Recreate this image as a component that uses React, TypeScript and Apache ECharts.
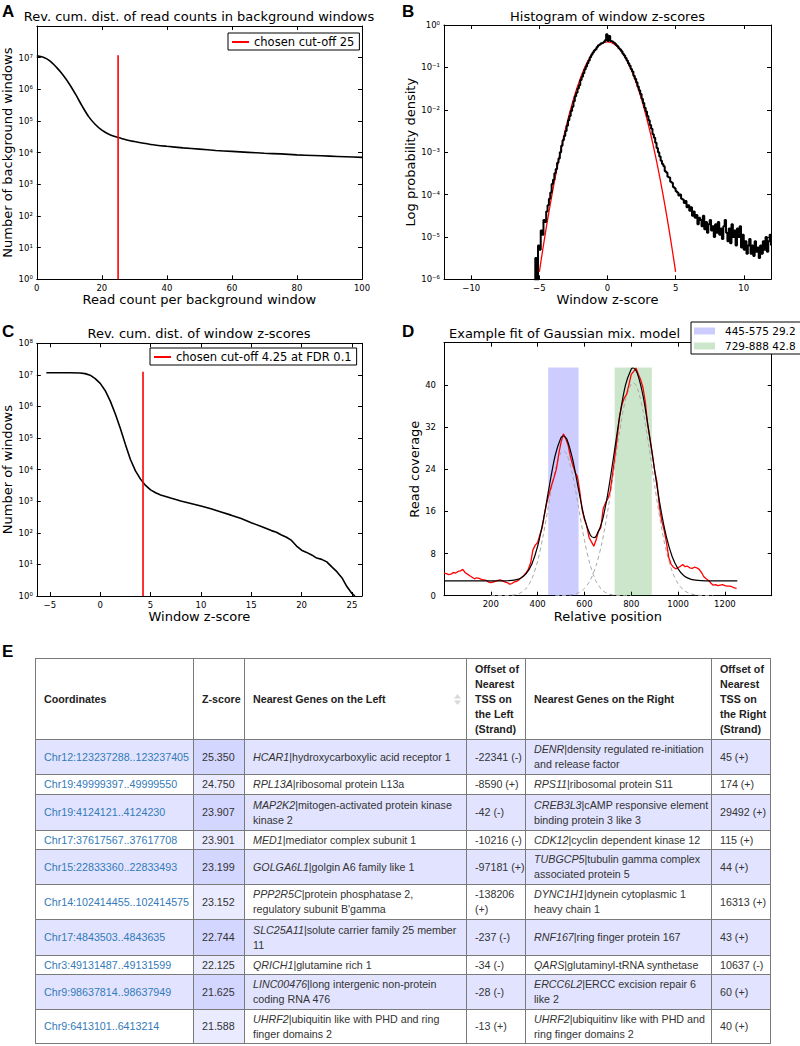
import React, { useEffect, useRef } from 'react';
import * as echarts from 'echarts';

// ---------- Panel A ----------
const aReadCount = [0, 2, 4, 6, 8, 10, 12, 14, 16, 18, 20, 22, 24, 26, 28, 30, 35, 40, 45, 50, 55, 60, 65, 70, 75, 80, 85, 90, 95, 100];
const aWindowsLog10 = [7.06, 7.01, 6.9, 6.7, 6.46, 6.17, 5.83, 5.46, 5.13, 4.89, 4.71, 4.59, 4.51, 4.45, 4.39, 4.35, 4.26, 4.2, 4.15, 4.11, 4.07, 4.04, 4.01, 3.98, 3.96, 3.93, 3.91, 3.89, 3.87, 3.85];
const aCutoff = 25;
const aCutoffTop = 1.2e7;
const aCutoffLabel = 'chosen cut-off 25';
const aXTicks = [0, 20, 40, 60, 80, 100];

// ---------- Panel B ----------
const bHistStart = -5.4;
const bHistBin = 0.1;
const bHistLog10 = [
  -6.3, -5.5, -6.1, -5.2, -5.3, -4.85, -4.95, -4.6, -4.65, -4.4,
  -4.25, -4.1, -3.95, -3.75, -3.65, -3.5, -3.4, -3.25, -3.15, -3.0,
  -2.85, -2.72, -2.62, -2.5, -2.38, -2.25, -2.15, -2.03, -1.93, -1.8,
  -1.68, -1.6, -1.5, -1.42, -1.3, -1.22, -1.14, -1.05, -0.98, -0.9,
  -0.84, -0.76, -0.7, -0.65, -0.6, -0.57, -0.52, -0.48, -0.46, -0.43,
  -0.42, -0.4, -0.36, -0.22, -0.38, -0.26, -0.38, -0.39, -0.41, -0.43,
  -0.47, -0.5, -0.55, -0.58, -0.62, -0.68, -0.72, -0.78, -0.84, -0.9,
  -0.96, -1.04, -1.1, -1.2, -1.27, -1.35, -1.45, -1.54, -1.63, -1.74,
  -1.84, -1.95, -2.04, -2.15, -2.25, -2.36, -2.45, -2.58, -2.66, -2.78,
  -2.9, -3.0, -3.1, -3.2, -3.28, -3.33, -3.45, -3.48, -3.58, -3.6,
  -3.7, -3.72, -3.82, -3.85, -3.92, -3.95, -4.02, -4.0, -4.1, -4.12,
  -4.2, -4.15, -4.3, -4.25, -4.38, -4.3, -4.5, -4.4, -4.55, -4.48,
  -4.7, -4.55, -4.6, -4.75, -4.5, -4.82, -4.65, -4.9, -4.7, -4.6,
  -4.85, -4.75, -5.0, -4.7, -4.9, -4.65, -4.95, -4.8, -5.05, -4.75,
  -4.6, -4.9, -5.1, -4.8, -5.15, -4.7, -5.0, -4.85, -5.2, -4.8,
  -5.0, -4.75, -5.25, -4.95, -5.3, -5.1, -5.4, -5.2, -5.05, -5.4,
  -5.2, -5.45, -5.1, -5.35, -5.25, -5.5, -5.2, -5.4, -5.1, -5.3,
  -5.0, -5.35, -5.1, -4.95, -5.2,
];
const bFitZ = [-5, -4.75, -4.5, -4.25, -4, -3.75, -3.5, -3.25, -3, -2.75, -2.5, -2.25, -2, -1.75, -1.5, -1.25, -1, -0.75, -0.5, -0.25, 0, 0.25, 0.5, 0.75, 1, 1.25, 1.5, 1.75, 2, 2.25, 2.5, 2.75, 3, 3.25, 3.5, 3.75, 4, 4.25, 4.5, 4.75, 5];
const bFitLog10 = [-5.826, -5.297, -4.795, -4.32, -3.873, -3.452, -3.058, -2.692, -2.353, -2.041, -1.756, -1.498, -1.267, -1.064, -0.888, -0.738, -0.616, -0.521, -0.453, -0.413, -0.399, -0.413, -0.453, -0.521, -0.616, -0.738, -0.888, -1.064, -1.267, -1.498, -1.756, -2.041, -2.353, -2.692, -3.058, -3.452, -3.873, -4.32, -4.795, -5.297, -5.826];
const bXTicks = [-10, -5, 0, 5, 10];

// ---------- Panel C ----------
const cZ = [-5.35, -4, -3, -2, -1.5, -1, -0.5, 0, 0.5, 1, 1.5, 2, 2.5, 3, 3.5, 4, 4.5, 5, 5.5, 6, 7, 8, 9, 10, 11, 12, 13, 14, 15, 16, 17, 17.5, 18, 18.5, 19, 19.5, 20, 20.5, 21, 21.5, 22, 22.5, 23, 23.5, 24, 24.5, 25, 25.3];
const cWindowsLog10 = [7.07, 7.07, 7.07, 7.06, 7.04, 6.99, 6.88, 6.73, 6.5, 6.17, 5.76, 5.3, 4.8, 4.32, 3.96, 3.7, 3.5, 3.36, 3.27, 3.2, 3.1, 3.01, 2.93, 2.85, 2.76, 2.66, 2.56, 2.45, 2.32, 2.2, 2.07, 2.02, 1.93, 1.86, 1.76, 1.58, 1.45, 1.38, 1.3, 1.2, 1.16, 1.08, 0.92, 0.77, 0.58, 0.3, 0.08, 0];
const cCutoff = 4.25;
const cCutoffTop = 1.25e7;
const cCutoffLabel = 'chosen cut-off 4.25 at FDR 0.1';
const cXTicks = [-5, 0, 5, 10, 15, 20, 25];

// ---------- Panel D ----------
const dCoverageStart = 0;
const dCoverageStep = 10;
const dCoverage = [
  4.3, 4.2, 4.0, 4.1, 4.4, 4.3, 4.6, 4.7, 5.0, 4.4,
  4.1, 3.8, 3.5, 3.2, 3.4, 3.3, 3.1, 3.0, 2.9, 2.6,
  2.5, 2.6, 2.7, 2.9, 3.0, 2.8, 2.6, 2.5, 2.2, 2.3,
  2.6, 2.7, 3.0, 3.4, 3.8, 4.3, 5.0, 6.2, 8.7, 9.6,
  10.1, 11.6, 13.0, 15.6, 17.8, 19.5, 21.0, 22.4, 24.0, 26.8,
  29.1, 30.7, 29.8, 28.6, 26.4, 24.8, 23.4, 22.6, 19.8, 16.3,
  14.5, 13.2, 11.0, 10.2, 9.4, 10.6, 12.2, 12.9, 16.5, 17.6,
  18.4, 19.8, 23.0, 26.5, 30.0, 34.0, 36.2, 37.5, 38.2, 40.0,
  42.0, 42.5, 43.2, 42.0, 41.0, 39.5, 36.8, 32.5, 29.8, 27.0,
  23.8, 21.5, 17.0, 14.2, 12.5, 10.2, 7.3, 6.0, 5.4, 5.1,
  5.3, 5.6, 5.9, 5.5, 5.6, 5.3, 5.2, 5.4, 5.3, 5.0,
  4.4, 3.6, 3.2, 2.9, 2.4, 2.0, 2.1, 1.9, 2.0, 2.1,
  1.9, 1.8, 1.8, 1.7, 1.5, 1.4,
];
const dFitPos = [0, 25, 50, 75, 100, 125, 150, 175, 200, 225, 250, 275, 300, 325, 350, 375, 400, 425, 450, 475, 500, 510, 525, 550, 575, 600, 625, 640, 650, 675, 700, 725, 750, 775, 800, 808, 825, 850, 875, 900, 925, 950, 975, 1000, 1025, 1050, 1075, 1100, 1125, 1150, 1175, 1200, 1225, 1253];
const dFitVal = [2.8, 2.8, 2.8, 2.8, 2.8, 2.8, 2.8, 2.8, 2.8, 2.8, 2.81, 2.84, 2.95, 3.28, 4.13, 5.97, 9.38, 14.5, 20.8, 26.6, 30.0, 30.3, 29.7, 25.8, 20.1, 14.7, 11.5, 11.0, 11.3, 14.0, 19.4, 26.5, 33.9, 39.9, 43.0, 43.2, 42.3, 38.0, 31.2, 23.7, 16.7, 11.2, 7.4, 5.1, 3.8, 3.2, 2.95, 2.85, 2.82, 2.8, 2.8, 2.8, 2.8, 2.8];
const dComp1Pos = [200, 225, 250, 275, 300, 325, 350, 375, 400, 425, 450, 475, 500, 510, 525, 550, 575, 600, 625, 650, 675, 700, 725, 750, 775, 800];
const dComp1Val = [0, 0, 0.01, 0.04, 0.15, 0.48, 1.33, 3.17, 6.58, 11.7, 18.0, 23.8, 27.2, 27.5, 26.8, 22.8, 16.7, 10.5, 5.75, 2.7, 1.1, 0.38, 0.12, 0.03, 0.01, 0];
const dComp2Pos = [475, 500, 525, 550, 575, 600, 625, 650, 675, 700, 725, 750, 775, 800, 808, 825, 850, 875, 900, 925, 950, 975, 1000, 1025, 1050, 1075, 1100, 1125, 1150];
const dComp2Val = [0.01, 0.03, 0.08, 0.22, 0.58, 1.37, 2.94, 5.75, 10.1, 16.2, 23.6, 31.1, 37.1, 40.2, 40.4, 39.5, 35.2, 28.4, 20.9, 13.9, 8.4, 4.6, 2.27, 1.02, 0.42, 0.15, 0.05, 0.015, 0];
const dBandLabels = ['445-575 29.2', '729-888 42.8'];
const dBandStart = [445, 729];
const dBandEnd = [575, 888];
const dBandTop = 43.3;
const dXTicks = [200, 400, 600, 800, 1000, 1200];
const dYTicks = [0, 8, 16, 24, 32, 40];

// ---------- Table E ----------
const eCoords = ['Chr12:123237288..123237405', 'Chr19:49999397..49999550', 'Chr19:4124121..4124230', 'Chr17:37617567..37617708', 'Chr15:22833360..22833493', 'Chr14:102414455..102414575', 'Chr17:4843503..4843635', 'Chr3:49131487..49131599', 'Chr9:98637814..98637949', 'Chr9:6413101..6413214'];
const eZScores = ['25.350', '24.750', '23.907', '23.901', '23.199', '23.152', '22.744', '22.125', '21.625', '21.588'];
const eLeftGene = ['HCAR1', 'RPL13A', 'MAP2K2', 'MED1', 'GOLGA6L1', 'PPP2R5C', 'SLC25A11', 'QRICH1', 'LINC00476', 'UHRF2'];
const eLeftDesc = ['|hydroxycarboxylic acid receptor 1', '|ribosomal protein L13a', '|mitogen-activated protein kinase\nkinase 2', '|mediator complex subunit 1', '|golgin A6 family like 1', '|protein phosphatase 2,\nregulatory subunit B\'gamma', '|solute carrier family 25 member\n11', '|glutamine rich 1', '|long intergenic non-protein\ncoding RNA 476', '|ubiquitin like with PHD and ring\nfinger domains 2'];
const eLeftOffset = ['-22341 (-)', '-8590 (+)', '-42 (-)', '-10216 (-)', '-97181 (+)', '-138206\n(+)', '-237 (-)', '-34 (-)', '-28 (-)', '-13 (+)'];
const eRightGene = ['DENR', 'RPS11', 'CREB3L3', 'CDK12', 'TUBGCP5', 'DYNC1H1', 'RNF167', 'QARS', 'ERCC6L2', 'UHRF2'];
const eRightDesc = ['|density regulated re-initiation\nand release factor', '|ribosomal protein S11', '|cAMP responsive element\nbinding protein 3 like 3', '|cyclin dependent kinase 12', '|tubulin gamma complex\nassociated protein 5', '|dynein cytoplasmic 1\nheavy chain 1', '|ring finger protein 167', '|glutaminyl-tRNA synthetase', '|ERCC excision repair 6\nlike 2', '|ubiquitinv like with PHD and\nring finger domains 2'];
const eRightOffset = ['45 (+)', '174 (+)', '29492 (+)', '115 (+)', '44 (+)', '16313 (+)', '43 (+)', '10637 (-)', '60 (+)', '40 (+)'];
const eHeaders = ['Coordinates', 'Z-score', 'Nearest Genes on the Left', 'Offset of\nNearest\nTSS on\nthe Left\n(Strand)', 'Nearest Genes on the Right', 'Offset of\nNearest\nTSS on\nthe Right\n(Strand)'];

// ---------- helpers ----------
const FONT = 'DejaVu Sans';
const SUP: Record<string, string> = { '-': '⁻', '0': '⁰', '1': '¹', '2': '²', '3': '³', '4': '⁴', '5': '⁵', '6': '⁶', '7': '⁷', '8': '⁸', '9': '⁹' };
const logFmt = (v: number) => '10' + String(Math.round(Math.log10(v))).split('').map((c) => SUP[c] || c).join('');
const minusFmt = (v: number) => String(v).replace('-', '−');
const plainFmt = (v: number) => String(v);

const axisLineS = { show: true, onZero: false, lineStyle: { color: '#000', width: 1 } };
const tickS = { show: true, inside: true, length: 4, lineStyle: { color: '#000', width: 1 } };
const labelS = { color: '#000', fontSize: 8.5, fontFamily: FONT };
const nameS = { color: '#000', fontSize: 13, fontFamily: FONT };

function xPair(grid: number, base: any, name: string, nameGap: number, labelExtra: any, tickExtra: any) {
  return [
    {
      ...base, gridIndex: grid, position: 'bottom', axisLine: axisLineS,
      axisTick: { ...tickS, ...tickExtra }, splitLine: { show: false },
      axisLabel: { ...labelS, margin: 4, ...labelExtra },
      name, nameLocation: 'middle', nameGap, nameTextStyle: nameS,
    },
    {
      ...base, gridIndex: grid, position: 'top', axisLine: axisLineS,
      axisTick: { ...tickS, ...tickExtra }, splitLine: { show: false }, axisLabel: { show: false },
    },
  ];
}
function yPair(grid: number, base: any, name: string, nameGap: number, labelExtra: any, tickExtra: any) {
  return [
    {
      ...base, gridIndex: grid, position: 'left', axisLine: axisLineS,
      axisTick: { ...tickS, ...tickExtra }, splitLine: { show: false },
      axisLabel: { ...labelS, margin: 4, ...labelExtra },
      name, nameLocation: 'middle', nameGap, nameTextStyle: nameS,
    },
    {
      ...base, gridIndex: grid, position: 'right', axisLine: axisLineS,
      axisTick: { ...tickS, ...tickExtra }, splitLine: { show: false }, axisLabel: { show: false },
    },
  ];
}

function textEl(text: string, x: number, y: number, size: number, align: string, opts: any = {}) {
  return {
    type: 'text', x, y, silent: true,
    style: {
      text, fill: '#000', fontSize: size, fontFamily: opts.family || FONT, fontWeight: opts.weight || 'normal',
      align, textAlign: align, verticalAlign: 'middle', textVerticalAlign: 'middle',
    },
  };
}

function buildOption(): any {
  const logA = { type: 'log', logBase: 10, min: 1, max: 1e8, splitNumber: 8 };
  const logB = { type: 'log', logBase: 10, min: 1e-6, max: 1, splitNumber: 6 };

  const xAxis = [
    ...xPair(0, { type: 'value', min: 0, max: 100, interval: 20 }, 'Read count per background window', 12, { customValues: aXTicks, formatter: plainFmt }, {}),
    ...xPair(1, { type: 'value', min: -12, max: 12 }, 'Window z-score', 12, { customValues: bXTicks, formatter: minusFmt }, { customValues: bXTicks }),
    ...xPair(2, { type: 'value', min: -6.3, max: 26 }, 'Window z-score', 10.8, { customValues: cXTicks, formatter: minusFmt }, { customValues: cXTicks }),
    ...xPair(3, { type: 'value', min: 0, max: 1400, interval: 200 }, 'Relative position', 12.5, { customValues: dXTicks, formatter: plainFmt }, {}),
  ];
  const yAxis = [
    ...yPair(0, logA, 'Number of background windows', 22.8, { formatter: logFmt, showMaxLabel: false }, {}),
    ...yPair(1, logB, 'Log probability density', 24.8, { formatter: logFmt }, {}),
    ...yPair(2, logA, 'Number of windows', 22.8, { formatter: logFmt }, {}),
    ...yPair(3, { type: 'value', min: 0, max: 48, interval: 8 }, 'Read coverage', 22.5, { customValues: dYTicks, margin: 8, formatter: plainFmt }, {}),
  ];

  const line = (xi: number, data: any[], color: string, width: number, z: number, extra: any = {}) => ({
    type: 'line', xAxisIndex: xi, yAxisIndex: xi, data, symbol: 'none', showSymbol: false,
    lineStyle: { color, width }, itemStyle: { color }, z, silent: true, ...extra,
  });

  const series: any[] = [
    // A
    line(0, aReadCount.map((x, i) => [x, Math.pow(10, aWindowsLog10[i])]), '#000', 1.6, 3, { smooth: 0.3 }),
    line(0, [[aCutoff, 1], [aCutoff, aCutoffTop]], '#ff0000', 1.6, 4, { name: aCutoffLabel }),
    // B
    line(2, bFitZ.map((z, i) => [z, Math.pow(10, bFitLog10[i])]), '#ff0000', 1.3, 3, { smooth: 0.3 }),
    line(2, bHistLog10.map((v, i) => [bHistStart + i * bHistBin, Math.pow(10, v)]), '#000', 2, 4, { step: 'end' }),
    // C
    line(4, cZ.map((z, i) => [z, Math.pow(10, cWindowsLog10[i])]), '#000', 1.6, 3),
    line(4, [[cCutoff, 1], [cCutoff, cCutoffTop]], '#ff0000', 1.6, 4, { name: cCutoffLabel }),
    // D bands
    ...dBandLabels.map((lab, k) => {
      const col = k === 0 ? 'rgba(0,0,255,0.2)' : 'rgba(0,128,0,0.2)';
      return {
        type: 'line', name: lab, xAxisIndex: 6, yAxisIndex: 6, data: [[dBandStart[k], 0]], symbol: 'none',
        showSymbol: false, lineStyle: { color: col, width: 0 }, itemStyle: { color: col }, z: 1, silent: true,
        markArea: {
          silent: true, label: { show: false }, itemStyle: { color: col },
          data: [[{ xAxis: dBandStart[k], yAxis: 0 }, { xAxis: dBandEnd[k], yAxis: dBandTop }]],
        },
      };
    }),
    line(6, dComp1Pos.map((x, i) => [x, dComp1Val[i]]), '#a8a8a8', 1, 2, { smooth: 0.3, lineStyle: { color: '#a8a8a8', width: 1, type: [4, 3] } }),
    line(6, dComp2Pos.map((x, i) => [x, dComp2Val[i]]), '#a8a8a8', 1, 2, { smooth: 0.3, lineStyle: { color: '#a8a8a8', width: 1, type: [4, 3] } }),
    line(6, dCoverage.map((v, i) => [dCoverageStart + i * dCoverageStep, v]), '#ff0000', 1.3, 3),
    line(6, dFitPos.map((x, i) => [x, dFitVal[i]]), '#000', 1.2, 4, { smooth: 0.3 }),
  ];

  const legendBase = {
    selectedMode: false, borderColor: '#000', borderWidth: 1, borderRadius: 0, backgroundColor: '#fff',
    textStyle: { color: '#000', fontSize: 11.5, fontFamily: FONT },
  };

  return {
    animation: false,
    backgroundColor: '#fff',
    grid: [
      { left: 36, top: 26, width: 326, height: 253.3 },
      { left: 444, top: 25, width: 327, height: 254.3 },
      { left: 36, top: 343.3, width: 326, height: 252.7 },
      { left: 444, top: 342.7, width: 327.7, height: 253 },
    ],
    xAxis,
    yAxis,
    legend: [
      { ...legendBase, data: [{ name: aCutoffLabel, icon: 'rect' }], left: 228, top: 33, padding: [3, 5, 2, 4], itemWidth: 17, itemHeight: 2 },
      { ...legendBase, data: [{ name: cCutoffLabel, icon: 'rect' }], left: 150, top: 348, padding: [3, 5, 2, 4], itemWidth: 17, itemHeight: 2 },
      {
        ...legendBase, orient: 'vertical', left: 691, top: 322, padding: [3, 5, 2, 3], itemWidth: 21, itemHeight: 7, itemGap: 3,
        textStyle: { color: '#000', fontSize: 10.5, fontFamily: FONT, padding: [0, 0, 0, 5], lineHeight: 12 },
        data: dBandLabels.map((n) => ({ name: n, icon: 'rect' })),
      },
    ],
    graphic: [
      textEl('A', 2, 11.5, 17, 'left', { family: 'Liberation Sans', weight: 'bold' }),
      textEl('B', 402, 11.5, 17, 'left', { family: 'Liberation Sans', weight: 'bold' }),
      textEl('C', 2, 331, 17, 'left', { family: 'Liberation Sans', weight: 'bold' }),
      textEl('D', 402, 331, 17, 'left', { family: 'Liberation Sans', weight: 'bold' }),
      textEl('E', 2, 651, 17, 'left', { family: 'Liberation Sans', weight: 'bold' }),
      textEl('Rev. cum. dist. of read counts in background windows', 199, 16.5, 13, 'center'),
      textEl('Histogram of window z-scores', 607.5, 16.5, 13, 'center'),
      textEl('Rev. cum. dist. of window z-scores', 199, 333, 13, 'center'),
      textEl('Example fit of Gaussian mix. model', 449, 333, 13, 'left'),
    ],
    series,
  };
}

// ---------- table layout (div based so geometry is exact) ----------
const TABLE_LEFT = 35;
const TABLE_TOP = 658;
const headerHeight = 81;
const rowHeights = [35, 20, 36, 19, 35, 35, 36, 19, 35, 34];
const colWidths = [158, 51, 222, 59, 186, 59];

function multiline(s: string) {
  const parts = s.split('\n');
  return parts.map((p, i) => (
    <React.Fragment key={i}>
      {p}
      {i < parts.length - 1 ? <br /> : null}
    </React.Fragment>
  ));
}

function TableE() {
  const border = '1px solid #7a7a7a';
  const colX: number[] = [];
  colWidths.reduce((acc, w, i) => { colX[i] = acc; return acc + w; }, 0);
  const rowY: number[] = [];
  rowHeights.reduce((acc, h, i) => { rowY[i] = acc; return acc + h; }, headerHeight);
  const totalW = colWidths.reduce((a, b) => a + b, 0);
  const totalH = headerHeight + rowHeights.reduce((a, b) => a + b, 0);

  const cellStyle = (c: number, top: number, h: number, bg: string): React.CSSProperties => ({
    position: 'absolute', left: colX[c], top, width: colWidths[c], height: h, boxSizing: 'border-box',
    borderRight: border, borderBottom: border, background: bg, display: 'flex', alignItems: 'center',
    padding: '0 8px', lineHeight: '15px', whiteSpace: 'nowrap',
  });

  const cells: React.ReactNode[] = [];
  eHeaders.forEach((h, c) => {
    cells.push(
      <div key={'h' + c} style={{ ...cellStyle(c, 0, headerHeight, '#fff'), fontWeight: 'bold', color: '#222' }}>
        <div>{multiline(h)}</div>
        {c === 2 ? (
          <svg width="7" height="11" style={{ position: 'absolute', right: 5, top: 35 }}>
            <polygon points="0,4.5 3.5,0 7,4.5" fill="#d8d8d8" />
            <polygon points="0,6.5 3.5,11 7,6.5" fill="#d8d8d8" />
          </svg>
        ) : null}
      </div>
    );
  });
  eCoords.forEach((coord, r) => {
    const odd = r % 2 === 0;
    const bg = odd ? '#E2E4FF' : '#ffffff';
    const sortBg = odd ? '#D3D6FF' : '#EAEBFF';
    const top = rowY[r];
    const h = rowHeights[r];
    cells.push(<div key={'c0' + r} style={{ ...cellStyle(0, top, h, bg), color: '#337ab7' }}><div>{coord}</div></div>);
    cells.push(<div key={'c1' + r} style={cellStyle(1, top, h, sortBg)}><div>{eZScores[r]}</div></div>);
    cells.push(<div key={'c2' + r} style={cellStyle(2, top, h, bg)}><div><i>{eLeftGene[r]}</i>{multiline(eLeftDesc[r])}</div></div>);
    cells.push(<div key={'c3' + r} style={cellStyle(3, top, h, bg)}><div>{multiline(eLeftOffset[r])}</div></div>);
    cells.push(<div key={'c4' + r} style={cellStyle(4, top, h, bg)}><div><i>{eRightGene[r]}</i>{multiline(eRightDesc[r])}</div></div>);
    cells.push(<div key={'c5' + r} style={cellStyle(5, top, h, bg)}><div>{eRightOffset[r]}</div></div>);
  });

  return (
    <div
      style={{
        position: 'absolute', left: TABLE_LEFT, top: TABLE_TOP, width: totalW + 1, height: totalH + 1,
        boxSizing: 'border-box', borderLeft: border, borderTop: border,
        fontFamily: '"Liberation Sans", Arial, sans-serif', fontSize: '10.7px', color: '#333',
      }}
    >
      <div style={{ position: 'absolute', left: 0, top: 0 }}>{cells}</div>
    </div>
  );
}

export default function App() {
  const ref = useRef<HTMLDivElement>(null);
  useEffect(() => {
    const chart = echarts.init(ref.current as HTMLDivElement, null, { renderer: 'svg' });
    chart.setOption(buildOption());
    return () => chart.dispose();
  }, []);
  return (
    <div style={{ position: 'absolute', left: 0, top: 0, width: 800, height: 1046, background: '#fff', overflow: 'hidden' }}>
      <div ref={ref} style={{ position: 'absolute', left: 0, top: 0, width: 800, height: 660 }} />
      <TableE />
    </div>
  );
}
